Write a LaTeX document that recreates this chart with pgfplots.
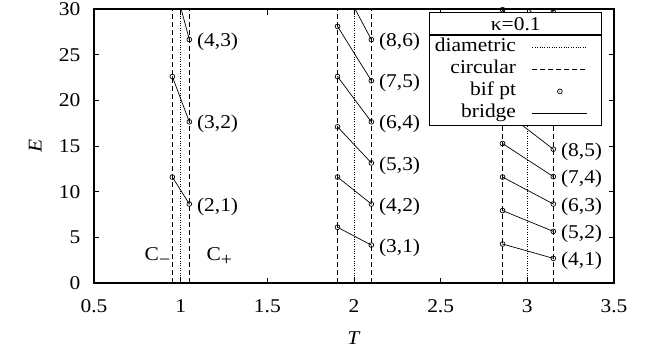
\documentclass[border=0pt]{standalone}
\usepackage{pgfplots}
\pgfplotsset{compat=1.18}
\usepackage{fontspec}
\setmainfont{Liberation Serif}[FakeStretch=1.10]

% gnuplot style circle with a dot in the middle
\pgfdeclareplotmark{bif}{%
  \pgfpathcircle{\pgfpointorigin}{\pgfplotmarksize}\pgfusepathqstroke
  \pgfpathcircle{\pgfpointorigin}{0.5bp}\pgfusepathqfill}

\pgfplotsset{
  diam/.style={black, line width=0.8bp, dash pattern=on 0.8bp off 1.6bp, no marks},
  circ/.style={black, line width=0.8bp, dash pattern=on 5bp off 3bp, no marks},
  bridge/.style={black, line width=0.7bp, mark=bif, mark size=2.4bp, mark options={solid}, forget plot},
}

\begin{document}
\fontsize{19.5bp}{23bp}\selectfont
\begin{tikzpicture}[font=\fontsize{19.5bp}{23bp}\selectfont]
\path[use as bounding box] (-94bp,-73bp) rectangle (566bp,283bp);
\begin{axis}[
    scale only axis, width=520bp, height=274bp,
    xmin=0.5, xmax=3.5, ymin=0, ymax=30,
    xtick={0.5,1,1.5,2,2.5,3,3.5},
    ytick={0,5,10,15,20,25,30},
    xticklabels={0.5,1,1.5,2,2.5,3,3.5},
    yticklabels={0,5,10,15,20,25,30},
    /pgf/number format/assume math mode=true,
    tick align=inside, major tick length=5.5bp,
    tick style={black, line width=0.8bp},
    axis line style={line width=1.1bp},
    xticklabel style={yshift=-10bp},
    yticklabel style={xshift=-7bp},
    xlabel={\textit{T}}, ylabel={\textit{E}},
    xlabel style={at={(axis description cs:0.5,-0.2)}, anchor=center},
    ylabel style={at={(axis description cs:-0.113,0.5)}, anchor=center},
    legend style={name=leg, at={(axis description cs:0.9763,0.9051)}, anchor=north east,
        draw=none, fill=white, inner xsep=3bp, inner ysep=1bp,
        column sep=14bp, row sep=0bp,
        nodes={inner xsep=2bp, inner ysep=2.3bp, text height=13bp, text depth=4.5bp}},
    legend cell align=right, legend plot pos=right,
    legend image code/.code={
        \draw[mark repeat=2, mark phase=2, #1] plot coordinates {(0bp,0bp) (27.5bp,0bp) (55bp,0bp)};
        \path (65.7bp,0bp);},
]
\addlegendimage{diam}
\addlegendentry{diametric}
\addlegendimage{circ}
\addlegendentry{circular}
\addlegendimage{black, only marks, mark=bif, mark size=2.4bp, line width=0.7bp}
\addlegendentry{bif pt}
\addlegendimage{black, line width=0.8bp, no marks}
\addlegendentry{bridge}

% diametric orbits
\addplot[diam, forget plot] coordinates {(1,0) (1,30)};
\addplot[diam, forget plot] coordinates {(2,0) (2,30)};
\addplot[diam, forget plot] coordinates {(3,0) (3,30)};

% circular orbits C- and C+
\addplot[circ, forget plot] coordinates {(0.952,0) (0.952,30)};
\addplot[circ, forget plot] coordinates {(1.05,0) (1.05,30)};
\addplot[circ, forget plot] coordinates {(1.905,0) (1.905,30)};
\addplot[circ, forget plot] coordinates {(2.1,0) (2.1,30)};
\addplot[circ, forget plot] coordinates {(2.857,0) (2.857,30)};
\addplot[circ, forget plot] coordinates {(3.15,0) (3.15,30)};

% bridges between bifurcation points
% n = 1
\addplot[bridge] coordinates {(0.952,11.6) (1.05,8.65)};
\addplot[bridge] coordinates {(0.952,22.6) (1.05,17.65)};
\addplot[bridge] coordinates {(0.952,33.6) (1.05,26.65)};
% n = 2
\addplot[bridge] coordinates {(1.905,6.1) (2.1,4.15)};
\addplot[bridge] coordinates {(1.905,11.6) (2.1,8.65)};
\addplot[bridge] coordinates {(1.905,17.1) (2.1,13.15)};
\addplot[bridge] coordinates {(1.905,22.6) (2.1,17.65)};
\addplot[bridge] coordinates {(1.905,28.1) (2.1,22.15)};
\addplot[bridge] coordinates {(1.905,33.6) (2.1,26.65)};
% n = 3
\addplot[bridge] coordinates {(2.857,4.27) (3.15,2.7)};
\addplot[bridge] coordinates {(2.857,7.93) (3.15,5.65)};
\addplot[bridge] coordinates {(2.857,11.6) (3.15,8.65)};
\addplot[bridge] coordinates {(2.857,15.27) (3.15,11.65)};
\addplot[bridge] coordinates {(2.857,18.93) (3.15,14.65)};
\addplot[bridge] coordinates {(2.857,22.6) (3.15,17.65)};
\addplot[bridge] coordinates {(2.857,26.27) (3.15,20.65)};
\addplot[bridge] coordinates {(2.857,29.93) (3.15,23.65)};
\addplot[bridge] coordinates {(2.857,33.6) (3.15,26.65)};
\addplot[bridge] coordinates {(2.857,37.27) (3.15,29.65)};

\begin{scope}[every node/.style={anchor=west, inner xsep=7.5bp, yshift=-2.5bp}]
\node at (axis cs:1.05,8.65) {(2,1)};
\node at (axis cs:1.05,17.65) {(3,2)};
\node at (axis cs:1.05,26.65) {(4,3)};
\node at (axis cs:2.1,4.15) {(3,1)};
\node at (axis cs:2.1,8.65) {(4,2)};
\node at (axis cs:2.1,13.15) {(5,3)};
\node at (axis cs:2.1,17.65) {(6,4)};
\node at (axis cs:2.1,22.15) {(7,5)};
\node at (axis cs:2.1,26.65) {(8,6)};
\node at (axis cs:3.15,2.7) {(4,1)};
\node at (axis cs:3.15,5.65) {(5,2)};
\node at (axis cs:3.15,8.65) {(6,3)};
\node at (axis cs:3.15,11.65) {(7,4)};
\node at (axis cs:3.15,14.65) {(8,5)};
\end{scope}
\node[anchor=base west] at (axis cs:0.754,2.44) {C\raisebox{-4.5bp}{\fontsize{18bp}{18bp}\selectfont −}};
\node[anchor=base west] at (axis cs:1.1115,2.44) {C\raisebox{-4.5bp}{\fontsize{18bp}{18bp}\selectfont +}};
\end{axis}
% legend title box, as gnuplot draws it
\fill[white] (leg.north west) rectangle ([yshift=22.5bp]leg.north east);
\draw[line width=1.1bp] (leg.south west) rectangle ([yshift=22.5bp]leg.north east);
\draw[line width=1.1bp] (leg.north west) -- (leg.north east);
\node at ([yshift=11.25bp]leg.north) {κ=0.1};
\end{tikzpicture}
\end{document}
